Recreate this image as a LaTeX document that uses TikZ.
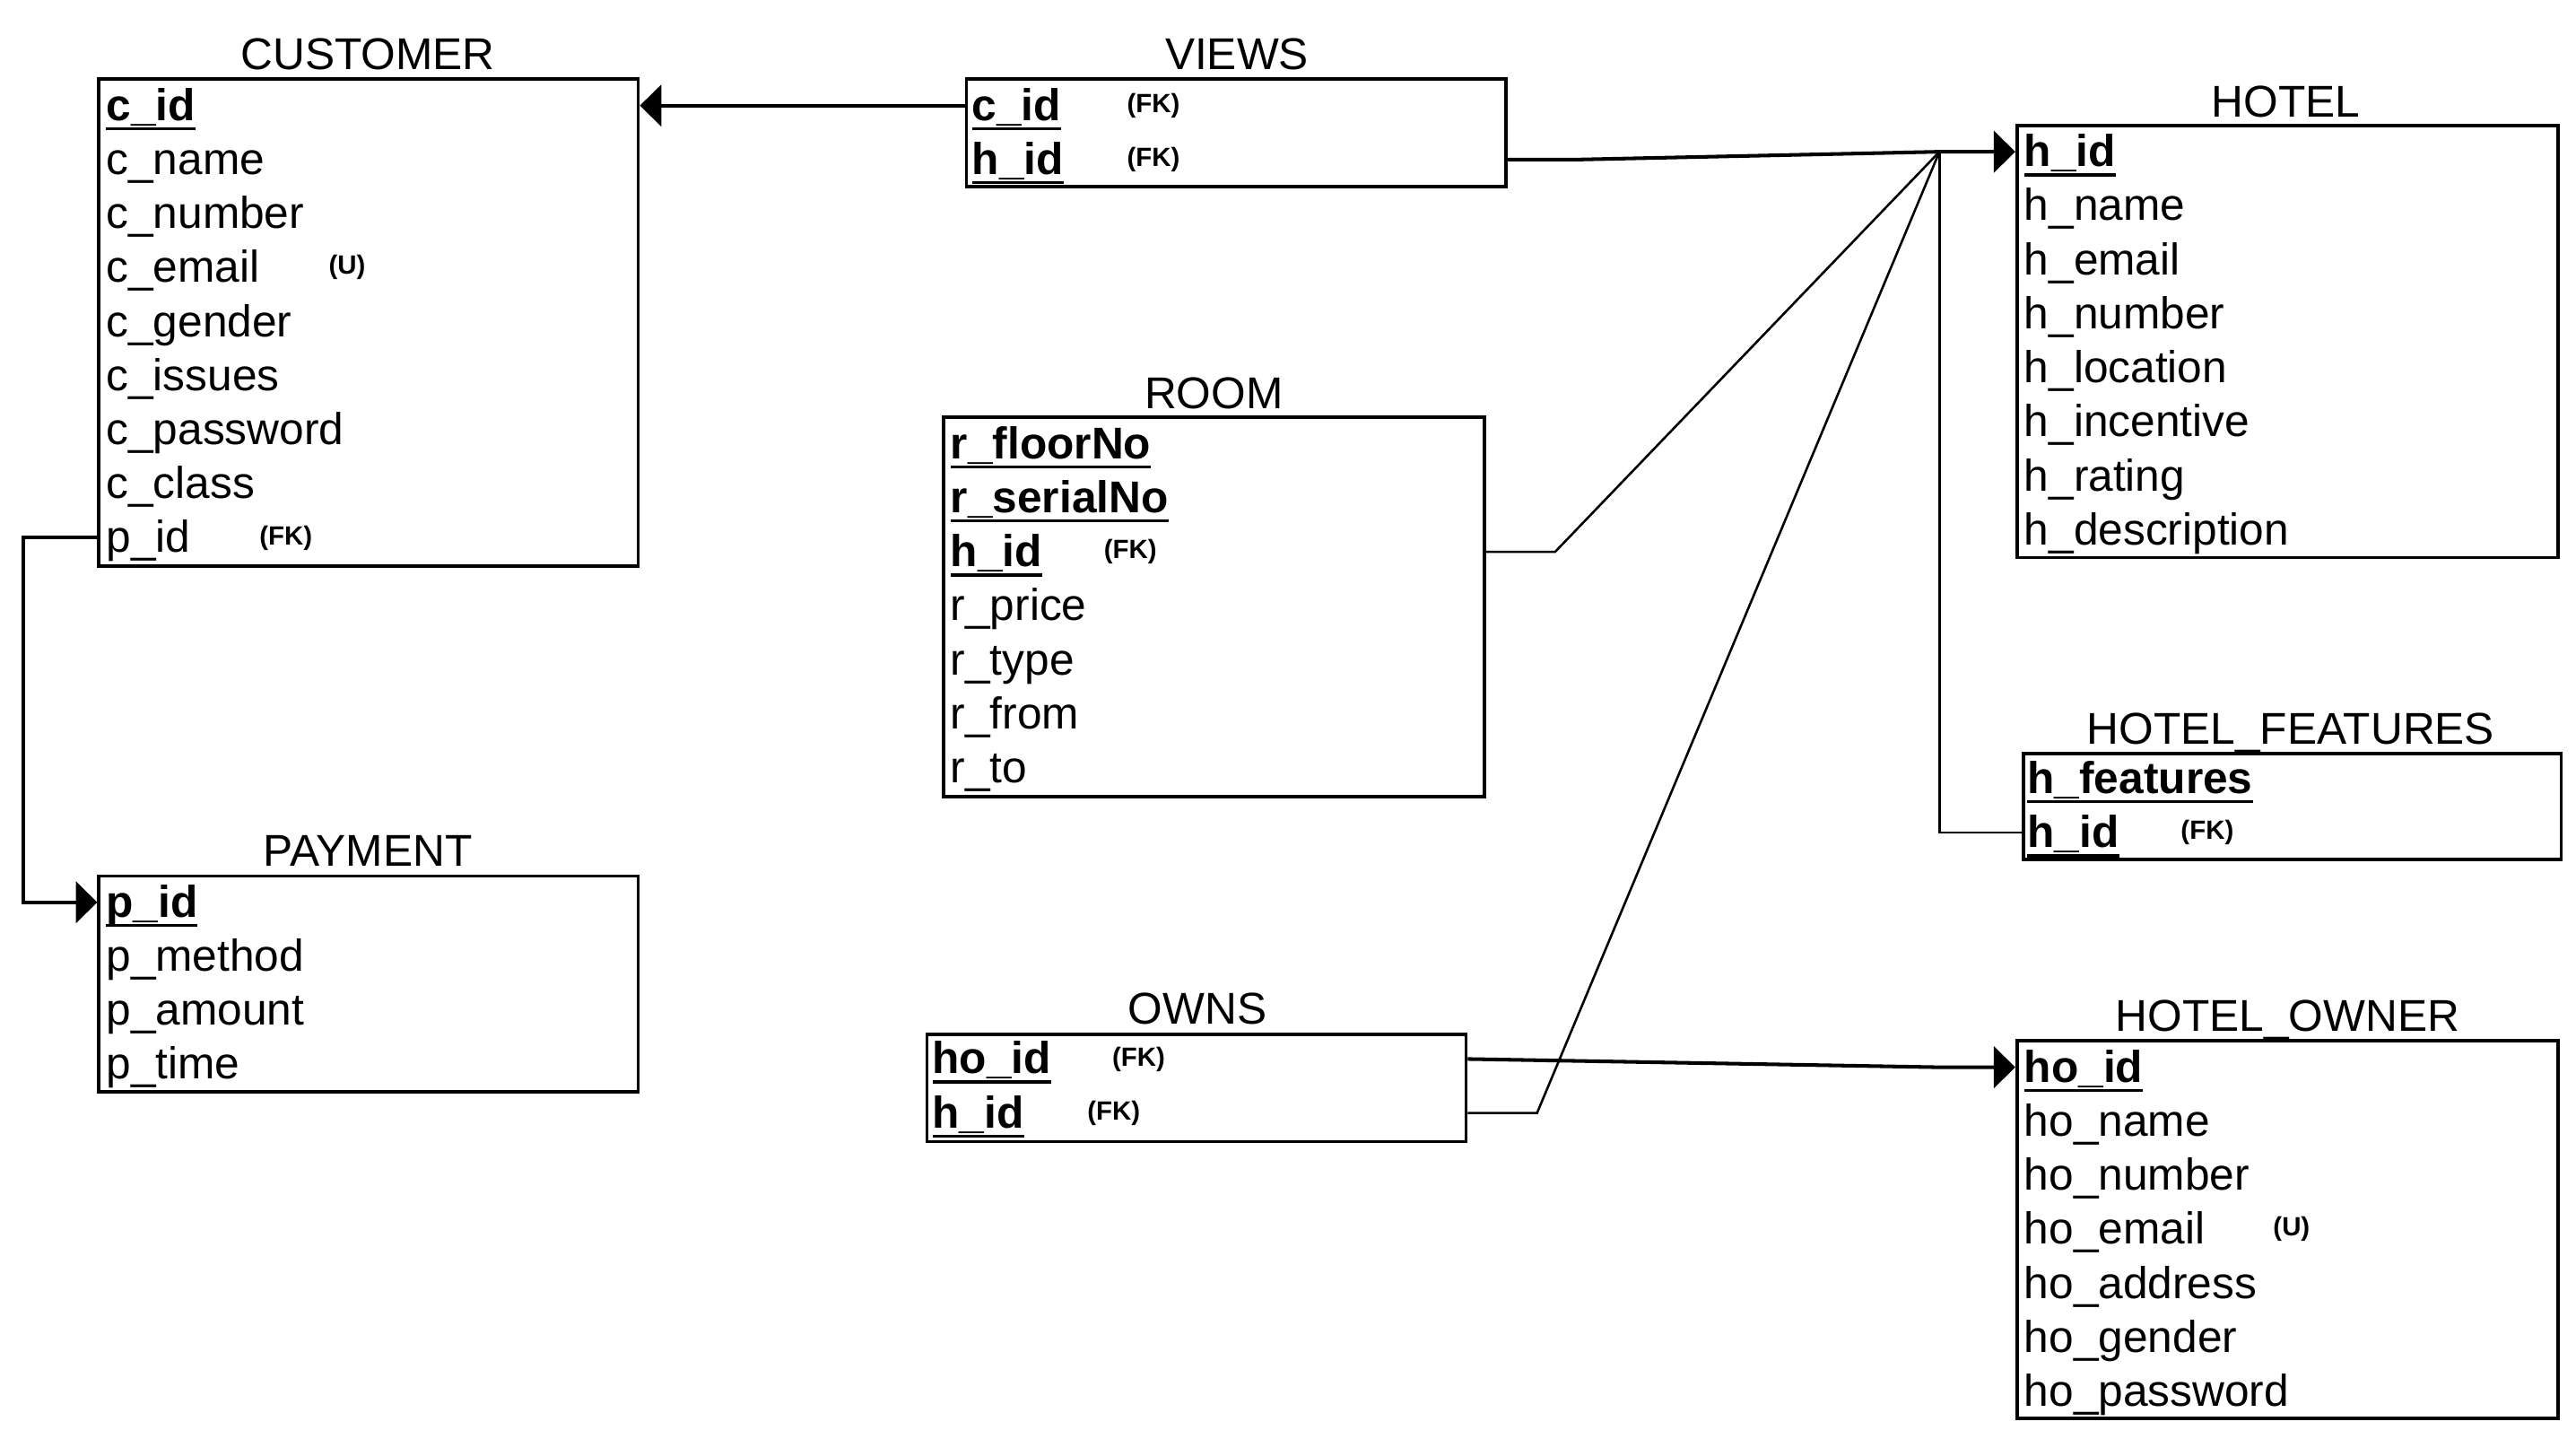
\documentclass[tikz,border=0pt]{standalone}
\usepackage{fontspec}
\setmainfont{Liberation Sans}
\usetikzlibrary{arrows.meta,fit}
\newcommand\pk[1]{\setbox0\hbox{#1}\rlap{\rule[-3pt]{\wd0}{1pt}}\box0}
\tikzset{
  tablebox/.style={draw, line width=1pt, inner sep=0pt},
  tabletitle/.style={inner sep=0pt, text height=11pt, text depth=2pt, font=\fontsize{13.5}{16}\selectfont},
  attr/.style={anchor=west, inner sep=0pt, text height=11pt, text depth=2pt, font=\fontsize{13.5}{16}\selectfont},
  pkattr/.style={attr, font=\fontsize{13.5}{16}\selectfont\bfseries},
  tag/.style={anchor=west, inner sep=0pt, font=\fontsize{8}{10}\selectfont\bfseries},
  rel/.style={line width=0.7pt},
  fkarrow/.style={line width=1.1pt, -{Triangle[length=6.5pt,width=12.5pt]}},
}
\begin{document}
\begin{tikzpicture}[x=0.5pt,y=-0.5pt]
  \useasboundingbox (0,0) rectangle (1562,872);
  % CUSTOMER
  \node[tablebox, fit={(60,48) (387,343)}] (Customer) {};
  \node[tabletitle] (CustomerTitle) at (223,33) {CUSTOMER};
  \node[pkattr] (CustomerCId) at (64,64) {\pk{c\_id}};
  \foreach \attrname [count=\i] in {c\_name,c\_number,c\_email,c\_gender,c\_issues,c\_password,c\_class,p\_id}
    \node[attr] (Customer\i) at (64,64+32.75*\i) {\attrname};
  \node[tag] (CustomerU) at (199,162.25) {(U)};
  \node[tag] (CustomerFK) at (157,326) {(FK)};
  % PAYMENT
  \node[tablebox, fit={(60,531) (387,662)}] (Payment) {};
  \node[tabletitle] (PaymentTitle) at (223,516) {PAYMENT};
  \node[pkattr] (PaymentPId) at (64,547) {\pk{p\_id}};
  \foreach \attrname [count=\i] in {p\_method,p\_amount,p\_time}
    \node[attr] (Payment\i) at (64,547+32.75*\i) {\attrname};
  % VIEWS
  \node[tablebox, fit={(586,48) (913,113)}] (Views) {};
  \node[tabletitle] (ViewsTitle) at (750,33) {VIEWS};
  \node[pkattr] (ViewsCId) at (589,64) {\pk{c\_id}};
  \node[pkattr] (ViewsHId) at (589,96.75) {\pk{h\_id}};
  \node[tag] (ViewsFK1) at (683,64) {(FK)};
  \node[tag] (ViewsFK2) at (683,96.75) {(FK)};
  % ROOM
  \node[tablebox, fit={(572,253) (900,483)}] (Room) {};
  \node[tabletitle] (RoomTitle) at (736,239) {ROOM};
  \node[pkattr] (RoomFloor) at (576,269) {\pk{r\_floorNo}};
  \node[pkattr] (RoomSerial) at (576,301.75) {\pk{r\_serialNo}};
  \node[pkattr] (RoomHId) at (576,334.5) {\pk{h\_id}};
  \node[tag] (RoomFK) at (669,334.5) {(FK)};
  \foreach \attrname [count=\i] in {r\_price,r\_type,r\_from,r\_to}
    \node[attr] (Room\i) at (576,334.5+32.75*\i) {\attrname};
  % OWNS
  \node[tablebox, fit={(562,627) (889,692)}] (Owns) {};
  \node[tabletitle] (OwnsTitle) at (726,612) {OWNS};
  \node[pkattr] (OwnsHoId) at (565,642) {\pk{ho\_id}};
  \node[pkattr] (OwnsHId) at (565,674.75) {\pk{h\_id}};
  \node[tag] (OwnsFK1) at (674,642) {(FK)};
  \node[tag] (OwnsFK2) at (659,674.75) {(FK)};
  % HOTEL
  \node[tablebox, fit={(1223,76) (1551,338)}] (Hotel) {};
  \node[tabletitle] (HotelTitle) at (1386,62) {HOTEL};
  \node[pkattr] (HotelHId) at (1227,92) {\pk{h\_id}};
  \foreach \attrname [count=\i] in {h\_name,h\_email,h\_number,h\_location,h\_incentive,h\_rating,h\_description}
    \node[attr] (Hotel\i) at (1227,92+32.75*\i) {\attrname};
  % HOTEL_FEATURES
  \node[tablebox, fit={(1227,457) (1553,521)}] (Features) {};
  \node[tabletitle] (FeaturesTitle) at (1389,442) {HOTEL\_FEATURES};
  \node[pkattr] (FeaturesName) at (1229,472) {\pk{h\_features}};
  \node[pkattr] (FeaturesHId) at (1229,504.75) {\pk{h\_id}};
  \node[tag] (FeaturesFK) at (1322,504.75) {(FK)};
  % HOTEL_OWNER
  \node[tablebox, fit={(1223,631) (1551,860)}] (Owner) {};
  \node[tabletitle] (OwnerTitle) at (1387,616) {HOTEL\_OWNER};
  \node[pkattr] (OwnerHoId) at (1227,647) {\pk{ho\_id}};
  \foreach \attrname [count=\i] in {ho\_name,ho\_number,ho\_email,ho\_address,ho\_gender,ho\_password}
    \node[attr] (Owner\i) at (1227,647+32.75*\i) {\attrname};
  \node[tag] (OwnerU) at (1378,745.25) {(U)};
  % relations
  \coordinate (Hub) at (1176,92);
  \draw[fkarrow] (Views.west |- ViewsCId) -- (Customer.east |- CustomerCId);
  \draw[fkarrow] (Views.east |- ViewsHId) -- ++(42,0) -- (Hub) -- (Hotel.west |- HotelHId);
  \draw[rel] (Room.east |- RoomHId) -- ++(42,0) -- (Hub);
  \draw[rel] (Owns.east |- OwnsHId) -- ++(42,0) -- (Hub);
  \draw[rel] (Features.west |- FeaturesHId) -- (Hub |- FeaturesHId) -- (Hub);
  \draw[fkarrow] (Owns.east |- OwnsHoId) -- (Hub |- OwnerHoId) -- (Owner.west |- OwnerHoId);
  \draw[fkarrow] (Customer.west |- Customer8) -- ++(-45,0) |- (Payment.west |- PaymentPId);
\end{tikzpicture}
\end{document}
